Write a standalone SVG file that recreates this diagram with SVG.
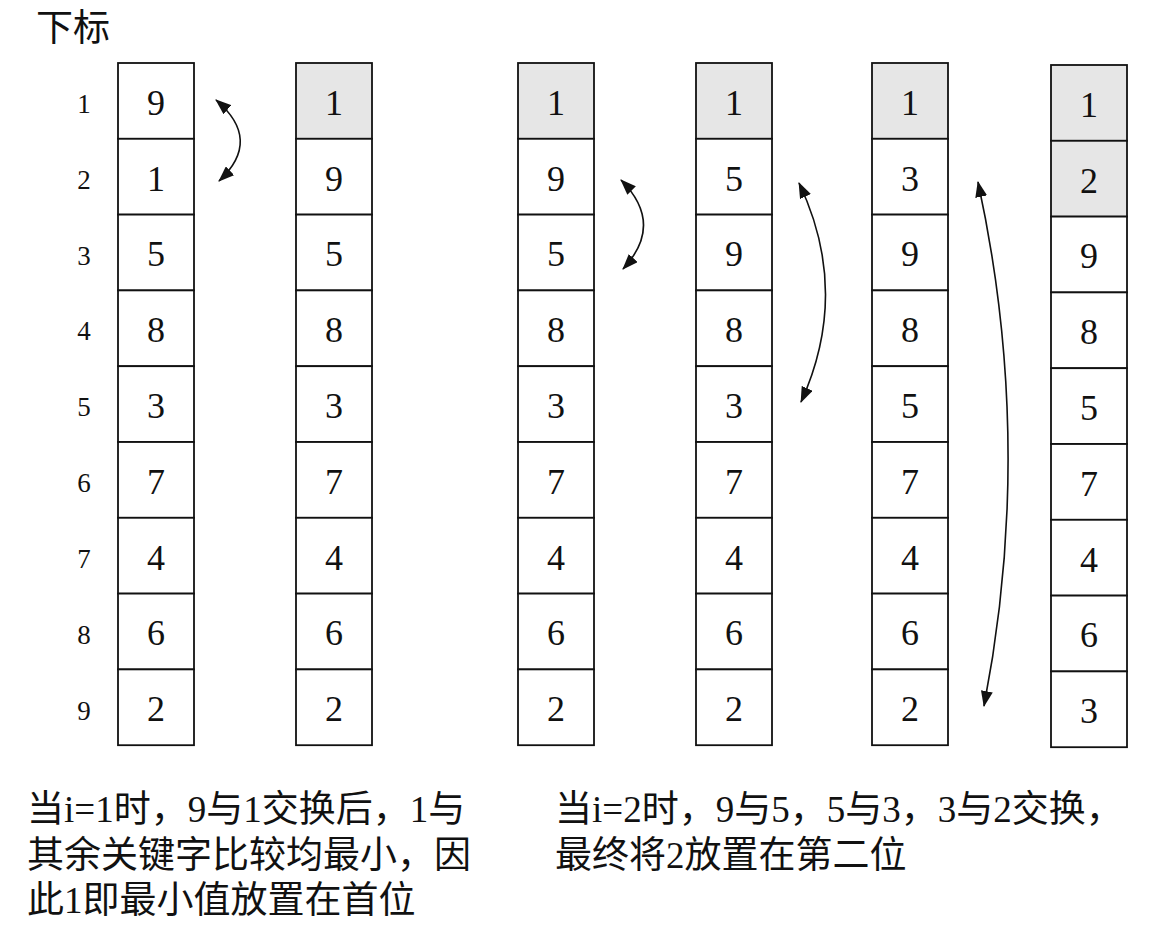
<svg xmlns="http://www.w3.org/2000/svg" width="1152" height="928" viewBox="0 0 1152 928">
<style>
.cell{fill:#ffffff;stroke:#111111;stroke-width:1.8}
.hl{fill:#e6e6e6;stroke:#111111;stroke-width:1.8}
.num{font-family:"Liberation Serif","Times New Roman",serif;font-size:36px;fill:#111111;text-anchor:middle}
.idx{font-family:"Liberation Serif","Times New Roman",serif;font-size:27px;fill:#111111;text-anchor:middle}
.txt{font-family:"Liberation Serif","Noto Sans CJK SC",serif;font-size:37px;fill:#111111}
.arc{fill:none;stroke:#111111;stroke-width:1.6;marker-start:url(#ah);marker-end:url(#ah)}
</style>
<defs>
<marker id="ah" markerUnits="userSpaceOnUse" markerWidth="16" markerHeight="12" refX="15" refY="6" orient="auto-start-reverse" viewBox="0 0 16 12">
<path d="M0,0 L16,6 L0,12 z" fill="#111111"/>
</marker>
</defs>
<rect width="1152" height="928" fill="#ffffff"/>
<g id="header">
<text class="txt" x="36" y="41" font-size="35">下标</text>
</g>
<g id="indices">
<text class="idx" x="84" y="113">1</text>
<text class="idx" x="84" y="189">2</text>
<text class="idx" x="84" y="265">3</text>
<text class="idx" x="84" y="340">4</text>
<text class="idx" x="84" y="416">5</text>
<text class="idx" x="84" y="492">6</text>
<text class="idx" x="84" y="568">7</text>
<text class="idx" x="84" y="644">8</text>
<text class="idx" x="84" y="720">9</text>
</g>
<g id="col1">
<rect class="cell" x="118" y="63" width="76" height="75.8"/>
<rect class="cell" x="118" y="138.8" width="76" height="75.8"/>
<rect class="cell" x="118" y="214.6" width="76" height="75.8"/>
<rect class="cell" x="118" y="290.4" width="76" height="75.8"/>
<rect class="cell" x="118" y="366.2" width="76" height="75.8"/>
<rect class="cell" x="118" y="442" width="76" height="75.8"/>
<rect class="cell" x="118" y="517.8" width="76" height="75.8"/>
<rect class="cell" x="118" y="593.6" width="76" height="75.8"/>
<rect class="cell" x="118" y="669.4" width="76" height="75.8"/>
<text class="num" x="156" y="115">9</text>
<text class="num" x="156" y="191">1</text>
<text class="num" x="156" y="266">5</text>
<text class="num" x="156" y="342">8</text>
<text class="num" x="156" y="418">3</text>
<text class="num" x="156" y="494">7</text>
<text class="num" x="156" y="570">4</text>
<text class="num" x="156" y="645">6</text>
<text class="num" x="156" y="721">2</text>
</g>
<g id="col2">
<rect class="hl" x="296" y="63" width="76" height="75.8"/>
<rect class="cell" x="296" y="138.8" width="76" height="75.8"/>
<rect class="cell" x="296" y="214.6" width="76" height="75.8"/>
<rect class="cell" x="296" y="290.4" width="76" height="75.8"/>
<rect class="cell" x="296" y="366.2" width="76" height="75.8"/>
<rect class="cell" x="296" y="442" width="76" height="75.8"/>
<rect class="cell" x="296" y="517.8" width="76" height="75.8"/>
<rect class="cell" x="296" y="593.6" width="76" height="75.8"/>
<rect class="cell" x="296" y="669.4" width="76" height="75.8"/>
<text class="num" x="334" y="115">1</text>
<text class="num" x="334" y="191">9</text>
<text class="num" x="334" y="266">5</text>
<text class="num" x="334" y="342">8</text>
<text class="num" x="334" y="418">3</text>
<text class="num" x="334" y="494">7</text>
<text class="num" x="334" y="570">4</text>
<text class="num" x="334" y="645">6</text>
<text class="num" x="334" y="721">2</text>
</g>
<g id="col3">
<rect class="hl" x="518" y="63" width="76" height="75.8"/>
<rect class="cell" x="518" y="138.8" width="76" height="75.8"/>
<rect class="cell" x="518" y="214.6" width="76" height="75.8"/>
<rect class="cell" x="518" y="290.4" width="76" height="75.8"/>
<rect class="cell" x="518" y="366.2" width="76" height="75.8"/>
<rect class="cell" x="518" y="442" width="76" height="75.8"/>
<rect class="cell" x="518" y="517.8" width="76" height="75.8"/>
<rect class="cell" x="518" y="593.6" width="76" height="75.8"/>
<rect class="cell" x="518" y="669.4" width="76" height="75.8"/>
<text class="num" x="556" y="115">1</text>
<text class="num" x="556" y="191">9</text>
<text class="num" x="556" y="266">5</text>
<text class="num" x="556" y="342">8</text>
<text class="num" x="556" y="418">3</text>
<text class="num" x="556" y="494">7</text>
<text class="num" x="556" y="570">4</text>
<text class="num" x="556" y="645">6</text>
<text class="num" x="556" y="721">2</text>
</g>
<g id="col4">
<rect class="hl" x="696" y="63" width="76" height="75.8"/>
<rect class="cell" x="696" y="138.8" width="76" height="75.8"/>
<rect class="cell" x="696" y="214.6" width="76" height="75.8"/>
<rect class="cell" x="696" y="290.4" width="76" height="75.8"/>
<rect class="cell" x="696" y="366.2" width="76" height="75.8"/>
<rect class="cell" x="696" y="442" width="76" height="75.8"/>
<rect class="cell" x="696" y="517.8" width="76" height="75.8"/>
<rect class="cell" x="696" y="593.6" width="76" height="75.8"/>
<rect class="cell" x="696" y="669.4" width="76" height="75.8"/>
<text class="num" x="734" y="115">1</text>
<text class="num" x="734" y="191">5</text>
<text class="num" x="734" y="266">9</text>
<text class="num" x="734" y="342">8</text>
<text class="num" x="734" y="418">3</text>
<text class="num" x="734" y="494">7</text>
<text class="num" x="734" y="570">4</text>
<text class="num" x="734" y="645">6</text>
<text class="num" x="734" y="721">2</text>
</g>
<g id="col5">
<rect class="hl" x="872" y="63" width="76" height="75.8"/>
<rect class="cell" x="872" y="138.8" width="76" height="75.8"/>
<rect class="cell" x="872" y="214.6" width="76" height="75.8"/>
<rect class="cell" x="872" y="290.4" width="76" height="75.8"/>
<rect class="cell" x="872" y="366.2" width="76" height="75.8"/>
<rect class="cell" x="872" y="442" width="76" height="75.8"/>
<rect class="cell" x="872" y="517.8" width="76" height="75.8"/>
<rect class="cell" x="872" y="593.6" width="76" height="75.8"/>
<rect class="cell" x="872" y="669.4" width="76" height="75.8"/>
<text class="num" x="910" y="115">1</text>
<text class="num" x="910" y="191">3</text>
<text class="num" x="910" y="266">9</text>
<text class="num" x="910" y="342">8</text>
<text class="num" x="910" y="418">5</text>
<text class="num" x="910" y="494">7</text>
<text class="num" x="910" y="570">4</text>
<text class="num" x="910" y="645">6</text>
<text class="num" x="910" y="721">2</text>
</g>
<g id="col6">
<rect class="hl" x="1051" y="65" width="76" height="75.8"/>
<rect class="hl" x="1051" y="140.8" width="76" height="75.8"/>
<rect class="cell" x="1051" y="216.6" width="76" height="75.8"/>
<rect class="cell" x="1051" y="292.4" width="76" height="75.8"/>
<rect class="cell" x="1051" y="368.2" width="76" height="75.8"/>
<rect class="cell" x="1051" y="444" width="76" height="75.8"/>
<rect class="cell" x="1051" y="519.8" width="76" height="75.8"/>
<rect class="cell" x="1051" y="595.6" width="76" height="75.8"/>
<rect class="cell" x="1051" y="671.4" width="76" height="75.8"/>
<text class="num" x="1089" y="117">1</text>
<text class="num" x="1089" y="193">2</text>
<text class="num" x="1089" y="268">9</text>
<text class="num" x="1089" y="344">8</text>
<text class="num" x="1089" y="420">5</text>
<text class="num" x="1089" y="496">7</text>
<text class="num" x="1089" y="572">4</text>
<text class="num" x="1089" y="647">6</text>
<text class="num" x="1089" y="723">3</text>
</g>
<g id="connectors">
<path class="arc" d="M216,100 Q263,140 219,181"/>
<path class="arc" d="M621,180 Q665,224 623,269"/>
<path class="arc" d="M799,183 Q851,292 801,402"/>
<path class="arc" d="M978,182 Q1035,444 984,706"/>
</g>
<g id="caption1">
<text class="txt" x="27" y="822">当i=1时，9与1交换后，1与</text>
<text class="txt" x="27" y="868">其余关键字比较均最小，因</text>
<text class="txt" x="27" y="913">此1即最小值放置在首位</text>
</g>
<g id="caption2">
<text class="txt" x="555" y="822">当i=2时，9与5，5与3，3与2交换，</text>
<text class="txt" x="555" y="868">最终将2放置在第二位</text>
</g>
</svg>
